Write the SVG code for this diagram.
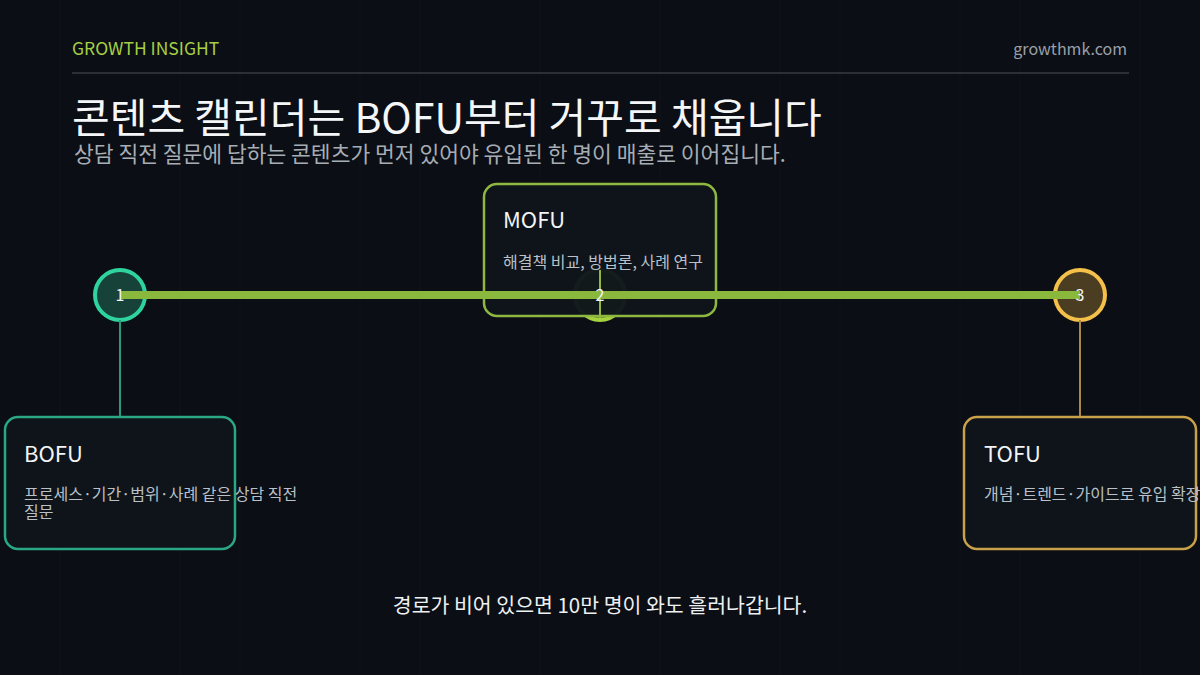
<svg xmlns="http://www.w3.org/2000/svg" width="1200" height="675" viewBox="0 0 1200 675">
<defs>
<style>
text{font-family:"Noto Sans CJK KR","Noto Sans",sans-serif}
.title{font-size:41px;fill:#f4f6f8}
.sub{font-size:21.5px;fill:#a7adb5}
.lbl{font-size:22px;fill:#f2f4f6}
.desc{font-size:16px;fill:#b9c0c8}
.num{font-size:16px;fill:#f2f4f6;text-anchor:middle}
.box{fill:#0f151b;fill-opacity:0.96;stroke-width:2.5}
.stripe{stroke:#ffffff;stroke-opacity:0.025;stroke-width:1}
</style>
</defs>
<rect width="1200" height="675" fill="#0b0e14"/>
<g id="stripes">
<line class="stripe" x1="60" y1="0" x2="60" y2="675"/>
<line class="stripe" x1="180" y1="0" x2="180" y2="675"/>
<line class="stripe" x1="240" y1="0" x2="240" y2="675"/>
<line class="stripe" x1="360" y1="0" x2="360" y2="675"/>
<line class="stripe" x1="420" y1="0" x2="420" y2="675"/>
<line class="stripe" x1="540" y1="0" x2="540" y2="675"/>
<line class="stripe" x1="660" y1="0" x2="660" y2="675"/>
<line class="stripe" x1="780" y1="0" x2="780" y2="675"/>
<line class="stripe" x1="840" y1="0" x2="840" y2="675"/>
<line class="stripe" x1="960" y1="0" x2="960" y2="675"/>
<line class="stripe" x1="1020" y1="0" x2="1020" y2="675"/>
<line class="stripe" x1="1140" y1="0" x2="1140" y2="675"/>
</g>
<g id="header">
<text x="72" y="55" font-size="17.5" fill="#a6cf45">GROWTH INSIGHT</text>
<text x="1127" y="55" font-size="16" fill="#9aa0a8" text-anchor="end">growthmk.com</text>
<line x1="72" y1="73" x2="1129" y2="73" stroke="#2b3038" stroke-width="2"/>
<text class="title" x="72" y="133">콘텐츠 캘린더는 BOFU부터 거꾸로 채웁니다</text>
<text class="sub" x="74" y="162">상담 직전 질문에 답하는 콘텐츠가 먼저 있어야 유입된 한 명이 매출로 이어집니다.</text>
</g>
<g id="circles">
<circle cx="120" cy="295" r="25" fill="#17423a" stroke="#2fd39e" stroke-width="4"/>
<circle cx="600" cy="295" r="25" fill="#5d7a25" stroke="#a6d23f" stroke-width="4"/>
<circle cx="1080" cy="295" r="25" fill="#4a3d22" stroke="#f5c04a" stroke-width="4"/>
</g>
<g id="node-bofu">
<rect class="box" x="5" y="417" width="230" height="132" rx="13" stroke="#2aa882"/>
<text class="lbl" x="24" y="462">BOFU</text>
<text class="desc" x="24" y="500">프로세스·기간·범위·사례 같은 상담 직전</text>
<text class="desc" x="24" y="518">질문</text>
</g>
<g id="node-mofu">
<rect class="box" x="484" y="184" width="232" height="132" rx="13" stroke="#8fb840"/>
<text class="lbl" x="503" y="228">MOFU</text>
<text class="desc" x="503" y="268">해결책 비교, 방법론, 사례 연구</text>
</g>
<g id="node-tofu">
<rect class="box" x="964" y="417" width="232" height="132" rx="13" stroke="#c9a148"/>
<text class="lbl" x="984" y="462">TOFU</text>
<text class="desc" x="984" y="500">개념·트렌드·가이드로 유입 확장</text>
</g>
<g id="connectors">
<line x1="120" y1="295" x2="1080" y2="295" stroke="#8ab83c" stroke-width="8"/>
<line x1="120" y1="320" x2="120" y2="416" stroke="#2a9a78" stroke-width="2"/>
<line x1="600" y1="270" x2="600" y2="318" stroke="#8fb840" stroke-width="2"/>
<line x1="1080" y1="320" x2="1080" y2="416" stroke="#a8874a" stroke-width="2"/>
</g>
<g id="numbers">
<text class="num" x="120" y="301">1</text>
<text class="num" x="600" y="301">2</text>
<text class="num" x="1080" y="301">3</text>
</g>
<text x="600" y="613" font-size="20.5" fill="#eef0f2" text-anchor="middle">경로가 비어 있으면 10만 명이 와도 흘러나갑니다.</text>
</svg>
